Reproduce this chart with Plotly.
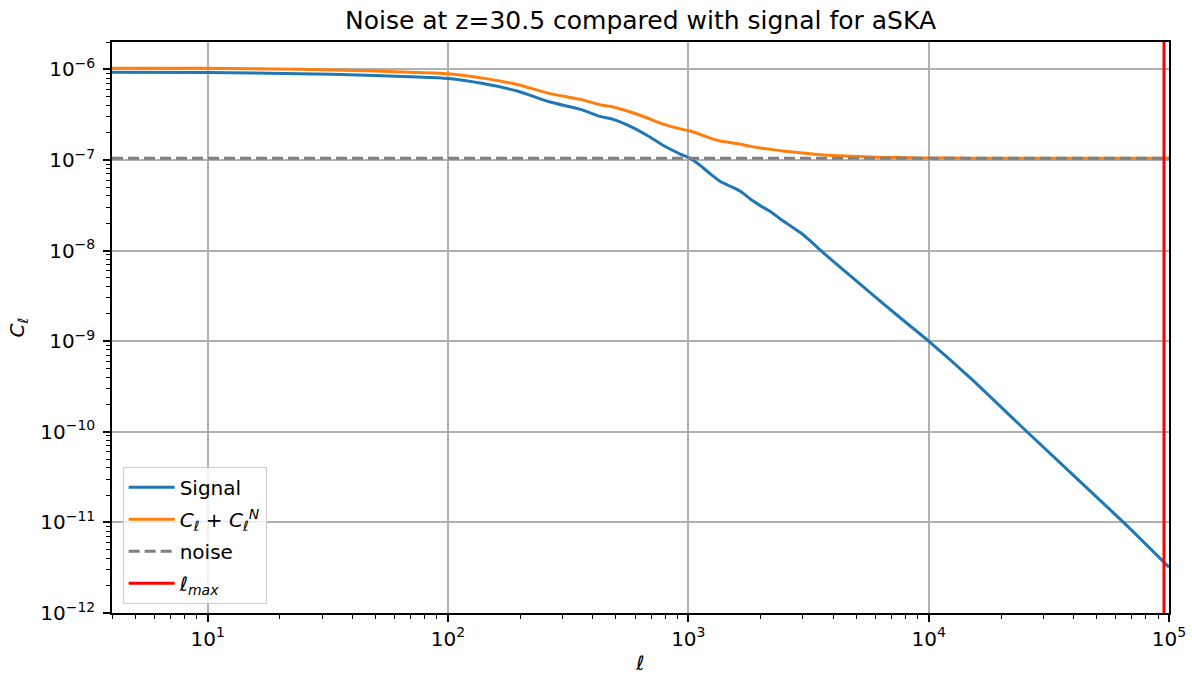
import plotly.graph_objects as go

# ---- data ----
ell = [4, 10, 24, 46, 70, 100, 140, 194, 266, 356, 429, 487, 574, 675, 787,
       926, 1019, 1122, 1235, 1359, 1496, 1645, 1811, 1993, 2193, 2414, 2655,
       2923, 3218, 3542, 4010, 6486, 8380, 10000, 15130, 25650, 64700, 100000]
signal = [9.25e-7, 9.2e-7, 8.95e-7, 8.6e-7, 8.25e-7, 7.9e-7, 6.95e-7, 5.75e-7,
          4.35e-7, 3.61e-7, 3.02e-7, 2.80e-7, 2.34e-7, 1.86e-7, 1.44e-7,
          1.16e-7, 1.04e-7, 8.67e-8, 7.0e-8, 5.77e-8, 5.12e-8, 4.51e-8, 3.71e-8,
          3.13e-8, 2.70e-8, 2.23e-8, 1.88e-8, 1.58e-8, 1.28e-8, 1.01e-8, 7.6e-9,
          2.58e-9, 1.47e-9, 1.0e-9, 3.79e-10, 1.0e-10, 1.0e-11, 3.2e-12]
noise_level = 1.04e-7
ell_max = 95300
total = [s + noise_level for s in signal]

x_tickvals = [10, 100, 1000, 10000, 100000]
x_ticktext = ["10<sup>1</sup>", "10<sup>2</sup>", "10<sup>3</sup>", "10<sup>4</sup>", "10<sup>5</sup>"]
y_tickvals = [1e-12, 1e-11, 1e-10, 1e-9, 1e-8, 1e-7, 1e-6]
y_ticktext = ["10<sup>\u221212</sup>", "10<sup>\u221211</sup>", "10<sup>\u221210</sup>",
              "10<sup>\u22129</sup>", "10<sup>\u22128</sup>", "10<sup>\u22127</sup>",
              "10<sup>\u22126</sup>"]

x_minor = [m * 10 ** d for d in range(0, 5) for m in range(2, 10)]
y_minor = [m * 10.0 ** d for d in range(-12, -5) for m in range(2, 10)]

FONT = "DejaVu Sans"
LW = 3

fig = go.Figure()
fig.add_trace(go.Scatter(x=ell, y=signal, mode="lines", name="Signal",
                         line=dict(color="#1f77b4", width=LW, shape="spline", smoothing=0.6),
                         legendgroup="a"))
fig.add_trace(go.Scatter(x=ell, y=total, mode="lines",
                         name="<i>C</i><sub><i>\u2113</i></sub> + <i>C</i><sub><i>\u2113</i></sub><sup><i>N</i></sup>",
                         line=dict(color="#ff7f0e", width=LW, shape="spline", smoothing=0.6),
                         legendgroup="b"))
fig.add_trace(go.Scatter(x=[ell[0], ell[-1]], y=[noise_level, noise_level], mode="lines",
                         name="noise", line=dict(color="#808080", width=LW, dash="11px,5px"),
                         legendgroup="c"))
fig.add_shape(type="line", xref="x", yref="paper", x0=ell_max, x1=ell_max, y0=0, y1=1,
              line=dict(color="red", width=LW), showlegend=True,
              name="<i>\u2113</i><sub><i>max</i></sub>", legendgroup="d")

axis_common = dict(
    type="log", showline=True, linecolor="black", linewidth=1.5, mirror=True,
    ticks="outside", ticklen=7, tickwidth=1.5, tickcolor="black",
    showgrid=True, gridcolor="#b0b0b0", gridwidth=1.5, zeroline=False,
    tickfont=dict(family=FONT, size=20, color="black"), automargin=False,
)

fig.update_layout(
    width=1192, height=675,
    margin=dict(l=112, r=23, t=42, b=62),
    paper_bgcolor="white", plot_bgcolor="white",
    font=dict(family=FONT, size=20, color="black"),
    title=dict(text="Noise at z=30.5 compared with signal for aSKA",
               x=(112 + 1169) / 2 / 1192, xanchor="center", y=0.97, yanchor="middle",
               font=dict(family=FONT, size=25, color="black")),
    xaxis=dict(axis_common, range=[0.60206, 5], tickmode="array",
               tickvals=x_tickvals, ticktext=x_ticktext,
               minor=dict(tickmode="array", tickvals=x_minor, ticks="outside",
                          ticklen=4, tickwidth=1.2, tickcolor="black", showgrid=False),
               title=dict(text="<i>\u2113</i>", font=dict(family=FONT, size=20), standoff=20)),
    yaxis=dict(axis_common, range=[-12.0, -5.699], tickmode="array",
               tickvals=y_tickvals, ticktext=y_ticktext, ticklabelstandoff=4,
               minor=dict(tickmode="array", tickvals=y_minor, ticks="outside",
                          ticklen=4, tickwidth=1.2, tickcolor="black", showgrid=False),
               title=dict(text="<i>C</i><sub><i>\u2113</i></sub>", font=dict(family=FONT, size=20),
                          standoff=10)),
    legend=dict(x=0.0101, y=0.016, xanchor="left", yanchor="bottom",
                bgcolor="rgba(255,255,255,0.8)", bordercolor="#cccccc", borderwidth=1,
                font=dict(family=FONT, size=20), tracegroupgap=3, itemwidth=46),
    showlegend=True,
)

fig.write_html("out.html")
